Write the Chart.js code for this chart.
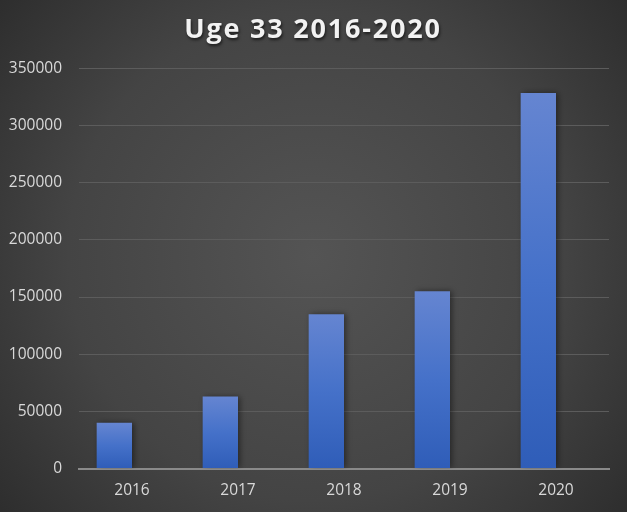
<!DOCTYPE html>
<html>
<head>
<meta charset="utf-8">
<script src="https://cdn.jsdelivr.net/npm/chart.js@4"></script>
<style>
  html, body { margin: 0; padding: 0; background: #3a3a3a; }
  #c { display: block; }
</style>
</head>
<body>
<canvas id="c" width="627" height="512"></canvas>
<script>
const chartTitle = 'Uge 33 2016-2020';
const categories = ['2016', '2017', '2018', '2019', '2020'];
const seriesValues = [40000, 63000, 135000, 155000, 328500];
const emptySeries = [null, null, null, null, null];
const yMin = 0;
const yMax = 350000;
const yStep = 50000;

const bgPlugin = {
  id: 'bg',
  beforeDraw(chart) {
    const ctx = chart.ctx;
    const w = chart.width, h = chart.height;
    ctx.save();
    const g = ctx.createRadialGradient(w * 0.5, h * 0.5, 0, w * 0.5, h * 0.5, Math.hypot(w, h) * 0.55);
    g.addColorStop(0, '#545454');
    g.addColorStop(0.55, '#444444');
    g.addColorStop(1, '#282828');
    ctx.fillStyle = g;
    ctx.fillRect(0, 0, w, h);
    ctx.restore();
  }
};

const titlePlugin = {
  id: 'ttl',
  afterDraw(chart) {
    const ctx = chart.ctx;
    ctx.save();
    ctx.font = 'bold 27px "Open Sans"';
    if ('letterSpacing' in ctx) ctx.letterSpacing = '1.8px';
    ctx.textAlign = 'center';
    ctx.textBaseline = 'alphabetic';
    ctx.shadowColor = 'rgba(0,0,0,0.6)';
    ctx.shadowBlur = 3;
    ctx.shadowOffsetX = 1;
    ctx.shadowOffsetY = 1.5;
    ctx.fillStyle = '#f2f2f2';
    ctx.fillText(chartTitle, 313, 38);
    ctx.restore();
  }
};

const shadowPlugin = {
  id: 'barShadow',
  beforeDatasetsDraw(chart) {
    const ctx = chart.ctx;
    ctx.save();
    ctx.shadowColor = 'rgba(0,0,0,0.45)';
    ctx.shadowBlur = 6;
    ctx.shadowOffsetX = 2;
    ctx.shadowOffsetY = 0;
  },
  afterDatasetsDraw(chart) {
    chart.ctx.restore();
  }
};

function barGradient(context) {
  const chart = context.chart;
  const area = chart.chartArea;
  if (!area || context.type !== 'data') return '#4472c4';
  const v = context.raw;
  if (v == null) return 'rgba(0,0,0,0)';
  const yScale = chart.scales.y;
  const top = yScale.getPixelForValue(v);
  const bottom = yScale.getPixelForValue(0);
  const g = chart.ctx.createLinearGradient(0, top, 0, bottom);
  g.addColorStop(0, '#6585d1');
  g.addColorStop(0.5, '#4571c9');
  g.addColorStop(1, '#2f5db8');
  return g;
}

const fontFamily = '"Open Sans", "Liberation Sans", sans-serif';

new Chart(document.getElementById('c'), {
  type: 'bar',
  data: {
    labels: categories,
    datasets: [
      {
        label: 'Uge 33',
        data: seriesValues,
        backgroundColor: barGradient,
        borderWidth: 0,
        categoryPercentage: 2 / 3,
        barPercentage: 1
      },
      {
        label: '',
        data: emptySeries,
        backgroundColor: 'rgba(0,0,0,0)',
        borderWidth: 0,
        categoryPercentage: 2 / 3,
        barPercentage: 1
      }
    ]
  },
  options: {
    responsive: false,
    animation: false,
    layout: { padding: { left: 0, right: 18, top: 68.5, bottom: 0 } },
    plugins: {
      legend: { display: false },
      title: { display: false },
      tooltip: { enabled: false }
    },
    scales: {
      x: {
        grid: { display: false, drawTicks: false },
        border: { display: true, color: '#8a8a8a', width: 2 },
        ticks: {
          color: '#d9d9d9',
          font: { family: fontFamily, size: 15.5 },
          padding: 13,
          maxRotation: 0
        },
        afterFit(scale) { scale.height = 43.5; }
      },
      y: {
        min: yMin,
        max: yMax,
        grid: { color: '#5c5c5c', lineWidth: 1, drawTicks: false },
        border: { display: false },
        ticks: {
          stepSize: yStep,
          color: '#d9d9d9',
          font: { family: fontFamily, size: 15.5 },
          padding: 17,
          callback: (v) => String(v)
        },
        afterFit(scale) { scale.width = 79; }
      }
    }
  },
  plugins: [bgPlugin, shadowPlugin, titlePlugin]
});
</script>
</body>
</html>
